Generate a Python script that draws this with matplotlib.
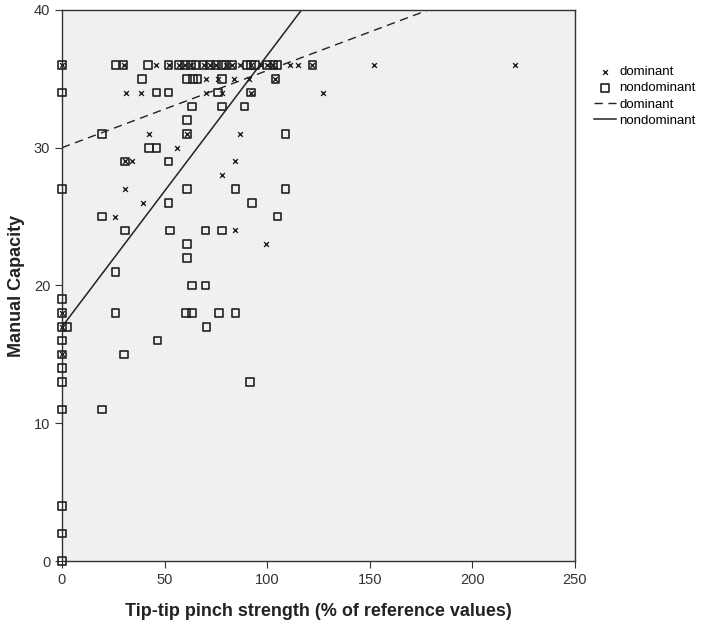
import numpy as np
import matplotlib.pyplot as plt

plt.rcParams['font.family'] = ['Liberation Sans', 'DejaVu Sans']

# dominant hand (x markers)
dom_x = [0, 30, 46, 52, 57, 60, 63, 69, 72, 75, 80, 83, 87, 92, 97, 100, 103, 111, 115, 122, 152, 221,
         70, 76, 84, 91, 104,
         31, 38.5, 70, 78, 92, 127,
         42.5, 61, 87,
         56,
         30.7, 34, 84.5,
         78, 30.7, 39.5, 26, 84.5, 99.5,
         0, 0, 0]
dom_y = [36] * 22 + [35] * 5 + [34] * 6 + [31] * 3 + [30] + [29] * 3 + \
        [28, 27, 26, 25, 24, 23, 18, 17, 15]

# nondominant hand (squares)
nd_x = [0, 26, 30, 42, 52, 57, 60, 63, 65, 69, 72, 75, 78, 80, 83, 90, 92, 94, 100, 103, 105, 122,
        39, 61, 64, 66, 78, 104,
        0, 46, 52, 76, 92,
        63.5, 78, 89,
        61,
        19.5, 61, 109,
        42.5, 46,
        30.7, 52,
        0, 61, 84.5, 109,
        52, 92.5,
        19.5, 105,
        30.7, 52.7, 70, 78,
        61, 61, 26,
        63.5, 70,
        0,
        0, 26, 60.5, 63.5, 76.4, 84.5,
        0, 2.5, 70.4,
        0, 46.5,
        0, 30.3,
        0,
        0, 91.5,
        0, 19.4,
        0, 0, 0]
nd_y = [36] * 22 + [35] * 6 + [34] * 5 + [33] * 3 + [32] + [31] * 3 + [30] * 2 + [29] * 2 + \
       [27] * 4 + [26] * 2 + [25] * 2 + [24] * 4 + [23, 22, 21] + [20] * 2 + [19] + \
       [18] * 6 + [17] * 3 + [16] * 2 + [15] * 2 + [14] + [13] * 2 + [11] * 2 + [4, 2, 0]

# fit lines (intercept, slope)
dom_fit = (30.0, 0.056)
nd_fit = (17.0, 0.197)

fig = plt.figure(figsize=(7.02, 6.21), dpi=100)
ax = fig.add_axes([0.0883, 0.0966, 0.7307, 0.8874])
ax.set_facecolor('#eff0f2')

ax.scatter(nd_x, nd_y, marker='s', s=30, facecolors='none', edgecolors='#222222',
           linewidths=1.2, label='nondominant', zorder=3, clip_on=False)
ax.scatter(dom_x, dom_y, marker='x', s=12, color='#222222', linewidths=1.0,
           label='dominant', zorder=4, clip_on=False)

xs = np.array([0, 250])
ax.plot(xs, dom_fit[0] + dom_fit[1] * xs, color='#222222', lw=1.0, ls=(0, (6, 4)),
        label='dominant')
ax.plot(xs, nd_fit[0] + nd_fit[1] * xs, color='#222222', lw=1.1, label='nondominant')

ax.set_xlim(0, 250)
ax.set_ylim(0, 40)
ax.set_xticks(range(0, 251, 50))
ax.set_yticks(range(0, 41, 10))
ax.tick_params(direction='out', length=5, labelsize=10.5, colors='#333333')
for s in ax.spines.values():
    s.set_color('#333333')
    s.set_linewidth(1.0)

ax.set_xlabel('Tip-tip pinch strength (% of reference values)', fontsize=13,
              fontweight='bold', labelpad=12, color='#222222')
ax.set_ylabel('Manual Capacity', fontsize=13, fontweight='bold', labelpad=6,
              color='#222222')

h, l = ax.get_legend_handles_labels()
order = [1, 0, 2, 3]
ax.legend([h[i] for i in order], [l[i] for i in order], loc='upper left',
          bbox_to_anchor=(1.02, 0.915), frameon=False, fontsize=9.5,
          handlelength=1.6, handletextpad=0.3, labelspacing=0.3, borderpad=0.2)

fig.savefig('out.png', dpi=100)
